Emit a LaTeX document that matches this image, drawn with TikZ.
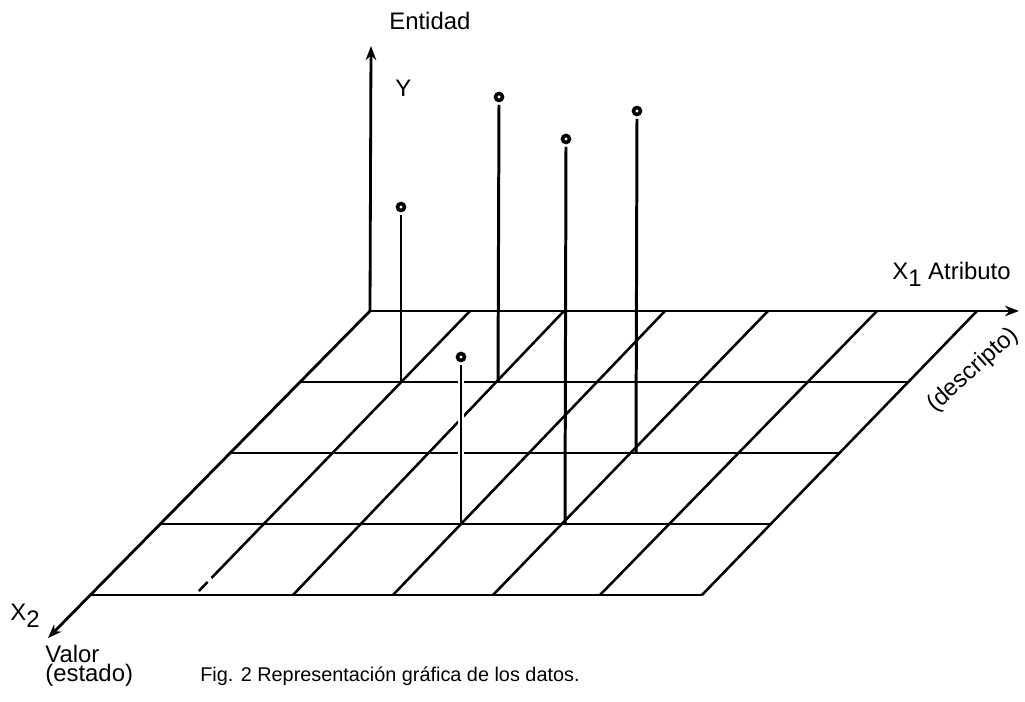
\documentclass[tikz,border=0pt]{standalone}
\usepackage{fontspec}
\setmainfont{Liberation Sans}
\usetikzlibrary{arrows.meta,calc}
\begin{document}
\begin{tikzpicture}[x=0.02cm,y=-0.02cm,
  gridline/.style={line width=1.45pt},
  axis/.style={line width=1.6pt,-{Stealth[length=8pt,width=6pt]}},
  stick/.style={line width=1.7pt},
  halo/.style={line width=3.2pt,draw=white},
  knob/.style={circle,draw,line width=2pt,inner sep=0pt,minimum size=0.14cm},
  lbl/.style={inner sep=0pt,anchor=base west,font=\fontsize{13.6}{15}\selectfont},
  captext/.style={inner sep=0pt,anchor=base west,font=\fontsize{11.3}{13}\selectfont},
]
\useasboundingbox (0,0) rectangle (1025,702);
% grid columns (top / bottom)
\foreach \i/\t/\b in {0/370/90,1/470/195,2/564/293,3/665/393,4/768/493,5/877/600,6/977/702}{
  \coordinate (t\i) at (\t,311);
  \coordinate (b\i) at (\b,595);
}
% rows
\foreach \j in {1,2,3,4}{
  \coordinate (l\j) at ($(t0)!\j/4!(b0)$);
  \coordinate (r\j) at ($(t6)!\j/4!(b6)$);
  \draw[gridline] (l\j) -- (r\j);
}
% columns
\foreach \i in {2,...,6}{ \draw[gridline] (t\i) -- (b\i); }
\coordinate (c1a) at ($(t1)!0.940!(b1)$);
\coordinate (c1b) at ($(t1)!0.954!(b1)$);
\coordinate (c1c) at ($(t1)!0.986!(b1)$);
\draw[gridline] (t1) -- (c1a);
\draw[gridline] (c1b) -- (c1c);
% axes
\coordinate (x1tip) at (1019,311);
\coordinate (x2tip) at (48,638);
\coordinate (ytip) at (371,46);
\draw[axis] (t0) -- (x1tip);
\draw[axis] (t0) -- (x2tip);
\draw[axis] (t0) -- (ytip);
% sticks
\node[knob] (k1) at (401,207) {};
\node[knob] (k2) at (499,97) {};
\node[knob] (k3) at (566,139) {};
\node[knob] (k4) at (637,111) {};
\node[knob] (k5) at (461,357) {};
\coordinate (s1) at (401,382);
\coordinate (s2) at (498,382);
\coordinate (s3) at (565,524);
\coordinate (s4) at (636,453);
\coordinate (s5) at (461,524);
\draw[halo] ([yshift=-0.08cm]k5.south) -- ([yshift=0.2cm]s5);
\foreach \k in {1,...,5}{
  \draw[stick] ([yshift=-0.05cm]k\k.south) -- (s\k);
}
% labels
\node[lbl] (entidad) at (389,30) {Entidad};
\node[lbl] (ylab) at (395,97) {Y};
\node[lbl] (x1lab) at (892,280) {X\raisebox{-0.5ex}{1} Atributo};
\node[lbl,anchor=center,rotate=42] (desc) at (973,370) {(descripto)};
\node[lbl] (x2lab) at (10,621) {X\raisebox{-0.5ex}{2}};
\node[lbl] (valor) at (45,663) {Valor};
\node[lbl] (estado) at (45,681) {(estado)};
\node[captext] (caption) at (200,681) {Fig. 2 Representación gráfica de los datos.};
\end{tikzpicture}
\end{document}
